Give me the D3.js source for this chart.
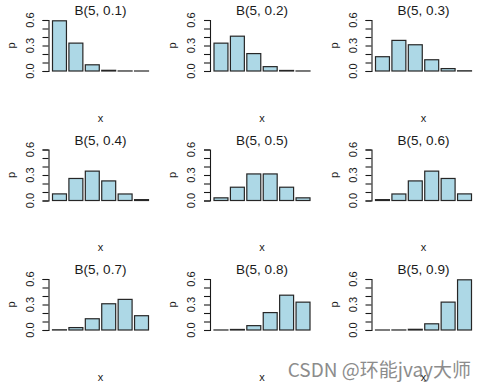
<!DOCTYPE html>
<html><head><meta charset="utf-8">
<script src="https://cdn.jsdelivr.net/npm/d3@7"></script>
<style>
html,body{margin:0;padding:0;background:#fff;}
svg{display:block;font-family:"Liberation Sans",Arial,sans-serif;}
</style></head>
<body>
<svg id="c" width="485" height="388"></svg>
<script>
// Data
const categories = ["0","1","2","3","4","5"];
const titles = ["B(5, 0.1)","B(5, 0.2)","B(5, 0.3)","B(5, 0.4)","B(5, 0.5)","B(5, 0.6)","B(5, 0.7)","B(5, 0.8)","B(5, 0.9)"];
const p01 = [0.59049, 0.32805, 0.0729, 0.0081, 0.00045, 0.00001];
const p02 = [0.32768, 0.4096, 0.2048, 0.0512, 0.0064, 0.00032];
const p03 = [0.16807, 0.36015, 0.3087, 0.1323, 0.02835, 0.00243];
const p04 = [0.07776, 0.2592, 0.3456, 0.2304, 0.0768, 0.01024];
const p05 = [0.03125, 0.15625, 0.3125, 0.3125, 0.15625, 0.03125];
const p06 = [0.01024, 0.0768, 0.2304, 0.3456, 0.2592, 0.07776];
const p07 = [0.00243, 0.02835, 0.1323, 0.3087, 0.36015, 0.16807];
const p08 = [0.00032, 0.0064, 0.0512, 0.2048, 0.4096, 0.32768];
const p09 = [0.00001, 0.00045, 0.0081, 0.0729, 0.32805, 0.59049];
const seriesList = [p01,p02,p03,p04,p05,p06,p07,p08,p09];
const yTicks = [0,0.1,0.2,0.3,0.4,0.5,0.6];
const yLabels = [0,0.3,0.6];
const watermark = "CSDN @环能jvay大师";

const svg = d3.select("#c");
const colOff = [0, 161.5, 323];
const rowOff = [0, 129.5, 259];
const ink = "#1a1a1a";

svg.append("text")
  .attr("x",471).attr("y",377)
  .attr("text-anchor","end")
  .attr("font-family","'Noto Sans CJK SC','Noto Sans',sans-serif")
  .attr("font-size",19)
  .attr("fill","#8c8c8c")
  .text(watermark);

seriesList.forEach((vals, i) => {
  const cx = colOff[i % 3], ry = rowOff[Math.floor(i / 3)];
  const g = svg.append("g").attr("transform", `translate(${cx},${ry})`);
  const x = d3.scaleBand().domain(categories).range([52.5, 148.5]).paddingInner(0.15).paddingOuter(0);
  const y = d3.scaleLinear().domain([0, 0.6]).range([71, 20]);

  g.selectAll("rect.bar").data(vals).join("rect")
    .attr("class","bar")
    .attr("x",(d,k)=>x(categories[k]))
    .attr("width",x.bandwidth())
    .attr("y",d=>y(d))
    .attr("height",d=>y(0)-y(d))
    .attr("fill","#add8e6")
    .attr("stroke","#262626")
    .attr("stroke-width",1.2);

  const ax = g.append("g").attr("transform","translate(48.5,0)")
    .call(d3.axisLeft(y).tickValues(yTicks).tickSize(6).tickFormat(""));
  ax.select(".domain").attr("stroke",ink).attr("stroke-width",1.1);
  ax.selectAll(".tick line").attr("stroke",ink).attr("stroke-width",1.1);

  g.selectAll("text.yl").data(yLabels).join("text")
    .attr("class","yl")
    .attr("transform",d=>`translate(33.5,${y(d)}) rotate(-90)`)
    .attr("text-anchor","middle")
    .attr("font-size",11)
    .attr("fill",ink)
    .text(d=>d3.format(".1f")(d));

  g.append("text")
    .attr("x",(x.range()[0]+x.range()[1])/2).attr("y",15)
    .attr("text-anchor","middle").attr("font-size",13.5).attr("fill",ink)
    .text(titles[i]);

  g.append("text")
    .attr("transform",`translate(14.5,${y(0.3)}) rotate(-90)`)
    .attr("text-anchor","middle").attr("font-size",11).attr("fill",ink)
    .text("p");

  g.append("text")
    .attr("x",(x.range()[0]+x.range()[1])/2).attr("y",121.5)
    .attr("text-anchor","middle").attr("font-size",11).attr("fill",ink)
    .text("x");
});
</script>
</body></html>
